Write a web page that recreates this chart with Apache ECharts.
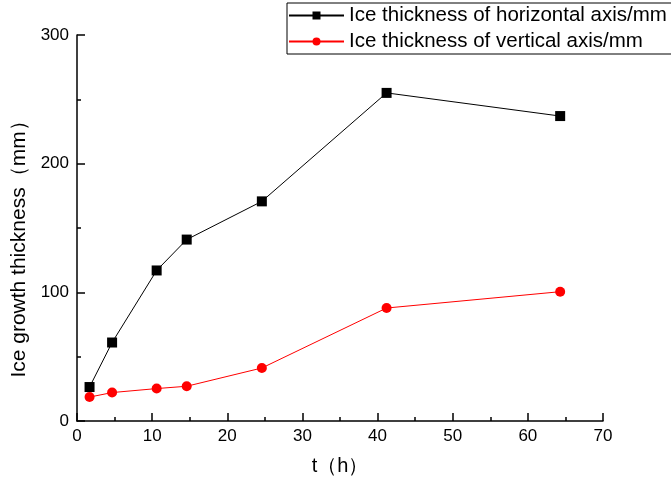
<!DOCTYPE html>
<html>
<head>
<meta charset="utf-8">
<script src="https://cdn.jsdelivr.net/npm/echarts@6/dist/echarts.min.js"></script>
<style>
html,body{margin:0;padding:0;background:#fff;}
#main{width:671px;height:481px;}
</style>
</head>
<body>
<div id="main"></div>
<script>
var times = [1.67, 4.67, 10.6, 14.6, 24.6, 41.2, 64.3];
var horizontalIce = [26.4, 61, 117, 141, 170.7, 255, 237];
var verticalIce = [18.6, 22.1, 25.2, 27.0, 41.2, 87.8, 100.5];
var seriesNames = ['Ice thickness of horizontal axis/mm', 'Ice thickness of vertical axis/mm'];

function pairs(xs, ys) { return xs.map(function (x, i) { return [x, ys[i]]; }); }

var font = 'Liberation Sans, Arial, sans-serif';
var chart = echarts.init(document.getElementById('main'));
chart.setOption({
  animation: false,
  backgroundColor: '#fff',
  grid: { left: 77, right: 68, top: 35, bottom: 59 },
  legend: {
    orient: 'vertical',
    left: 287, top: 3,
    padding: [2, 20, 2, 1],
    itemGap: 5,
    itemWidth: 55, itemHeight: 10,
    borderColor: '#000', borderWidth: 1,
    textStyle: { fontFamily: font, fontSize: 20.5, color: '#000', lineHeight: 20 },
    data: seriesNames
  },
  xAxis: {
    type: 'value', min: 0, max: 70, interval: 10,
    name: 't（h）', nameLocation: 'middle', nameGap: 35,
    nameTextStyle: { fontFamily: font, fontSize: 20, color: '#000' },
    axisLine: { show: true, lineStyle: { color: '#000', width: 1.5 } },
    axisTick: { show: true, inside: true, length: 8, lineStyle: { color: '#000', width: 1.5 } },
    minorTick: { show: true, splitNumber: 2, length: 4, lineStyle: { color: '#000', width: 1.5 } },
    axisLabel: { fontFamily: font, fontSize: 17, color: '#000', margin: 7 },
    splitLine: { show: false }
  },
  yAxis: {
    type: 'value', min: 0, max: 300, interval: 100,
    name: 'Ice growth thickness（mm）', nameLocation: 'middle', nameGap: 45,
    nameTextStyle: { fontFamily: font, fontSize: 21, color: '#000', padding: [0, 32, 0, 0] },
    axisLine: { show: true, lineStyle: { color: '#000', width: 1.5 } },
    axisTick: { show: true, inside: true, length: 8, lineStyle: { color: '#000', width: 1.5 } },
    minorTick: { show: true, splitNumber: 2, length: 4, lineStyle: { color: '#000', width: 1.5 } },
    axisLabel: { fontFamily: font, fontSize: 17, color: '#000', margin: 8 },
    splitLine: { show: false }
  },
  series: [
    {
      name: seriesNames[0], type: 'line',
      data: pairs(times, horizontalIce),
      symbol: 'rect', symbolSize: 10,
      lineStyle: { color: '#000', width: 1 },
      itemStyle: { color: '#000' }
    },
    {
      name: seriesNames[1], type: 'line',
      data: pairs(times, verticalIce),
      symbol: 'circle', symbolSize: 10,
      lineStyle: { color: '#ff0000', width: 1 },
      itemStyle: { color: '#ff0000' }
    }
  ]
});
</script>
</body>
</html>
